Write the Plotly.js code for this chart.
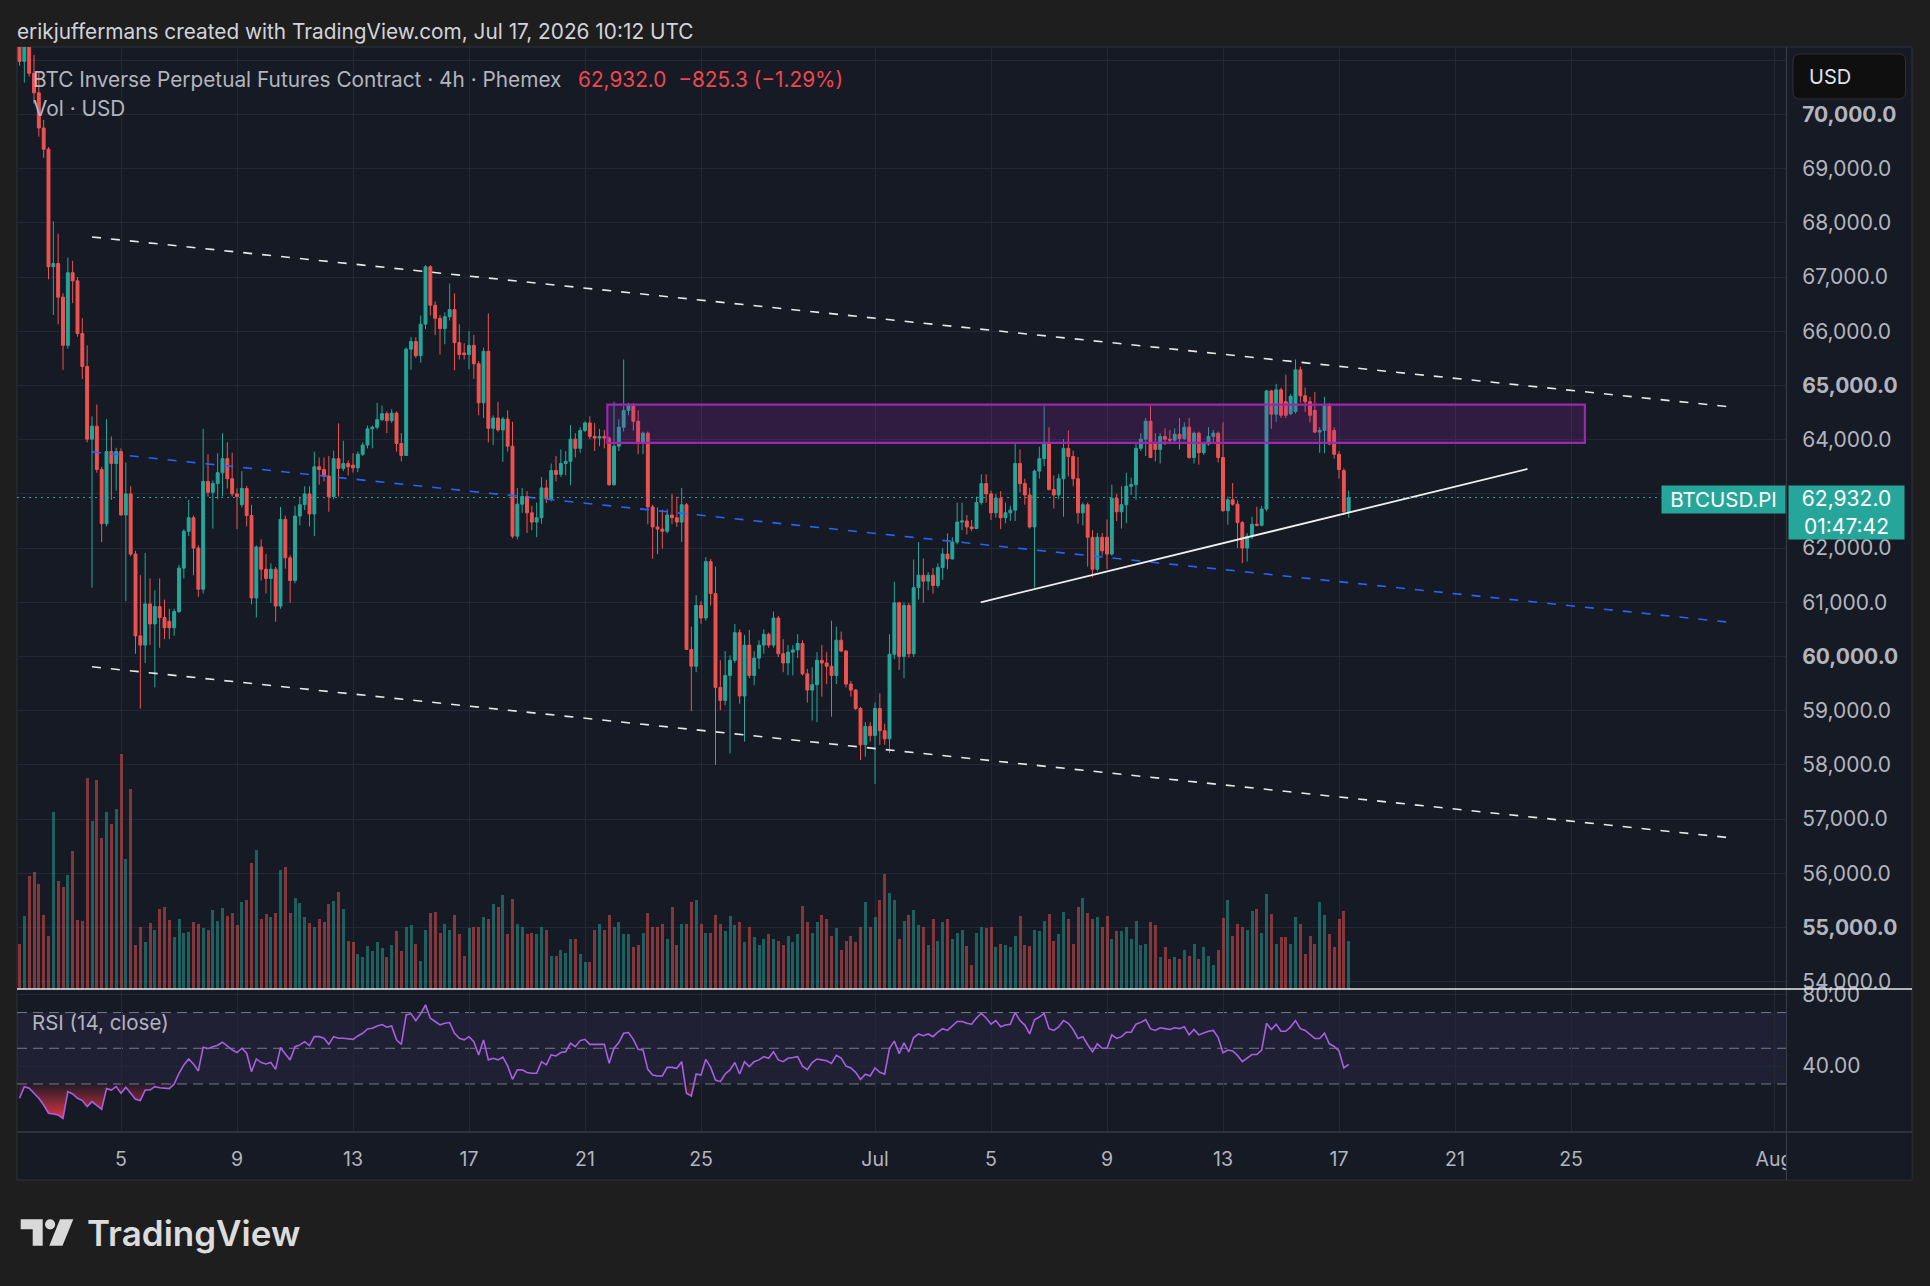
<!DOCTYPE html>
<html>
<head>
<meta charset="utf-8">
<script src="https://cdn.plot.ly/plotly-3.0.1.min.js"></script>
<style>
  html, body { margin: 0; padding: 0; background: #1e1e1e; }
  #chart { width: 1930px; height: 1286px; }
</style>
</head>
<body>
<div id="chart"></div>
<script>
// ---------------------------------------------------------------
// BTCUSD.PI (Phemex inverse perpetual), 4h bars, Jun 1 – Jul 17 2026
// ---------------------------------------------------------------
const firstBarUTC = Date.UTC(2026, 5, 1, 12, 0);   // open time of the first 4h bar
const barHours = 4;

const open = [
  71300, 70980, 71260, 70760, 70400, 69750, 69360, 67190, 67250, 66630,
  65740, 67080, 66930, 65960, 65350, 64010, 64250, 63450, 62450, 63780,
  63560, 63780, 62610, 63000, 61890, 60380, 60210, 60970, 60600, 60920,
  60720, 60650, 60530, 60830, 61630, 62310, 62560, 62000, 61240, 63230,
  63030, 63190, 63390, 63650, 63280, 63000, 62800, 63100, 62600, 61080,
  62020, 61610, 61440, 61610, 60930, 62530, 61820, 61400, 62590, 62800,
  63000, 62630, 63500, 63450, 63330, 62950, 63650, 63470, 63560, 63530,
  63480, 63730, 63900, 64200, 64230, 64370, 64480, 64350, 64490, 63930,
  63710, 65670, 65810, 65550, 66130, 67190, 66480, 66240, 66050, 66270,
  66400, 65790, 65600, 65570, 65740, 65400, 64680, 65630, 64210, 64400,
  64180, 64380, 63880, 62220, 62810, 62950, 62650, 62480, 62560, 63110,
  62910, 63430, 63360, 63560, 63600, 64010, 63840, 64170, 64310, 64060,
  64030, 64060, 64030, 63170, 63880, 64230, 64540, 64620, 64340, 63950,
  64120, 62760, 62390, 62350, 62310, 62610, 62560, 62480, 62800, 60130,
  59820, 60940, 60710, 61750, 61160, 59430, 59190, 59650, 59930, 60440,
  59270, 60210, 59650, 59970, 60210, 60410, 60210, 60710, 60050, 59880,
  60080, 60120, 60240, 59680, 59380, 59480, 59930, 59880, 59820, 59650,
  60300, 60100, 59490, 59380, 59040, 58370, 58710, 58540, 59040, 58630,
  58480, 60040, 60990, 60000, 60940, 60050, 61270, 61500, 61390, 61500,
  61310, 61640, 61890, 61800, 62110, 62480, 62500, 62390, 62360, 62840,
  63190, 63000, 62650, 62920, 62560, 62650, 62700, 63560, 63190, 62980,
  62390, 63420, 63650, 63950, 63080, 62980, 63280, 63840, 63690, 63280,
  62650, 62800, 62200, 61610, 62200, 62200, 61890, 62920, 62670, 62800,
  63140, 63170, 63840, 64010, 64340, 63950, 63820, 64060, 64010, 63990,
  64100, 64020, 64230, 63670, 64120, 63760, 63920, 64060, 64120, 63670,
  62690, 62890, 62810, 62470, 62000, 62220, 62440, 62420, 62720, 64900,
  64470, 64920, 64700, 64480, 64520, 65290, 64810, 64700, 64540, 64140,
  64170, 64620, 64170, 63730, 63430, 62670
];

const high = [
  71500, 71400, 71350, 71100, 70800, 69900, 69400, 68030, 67800, 66700,
  67360, 67300, 67000, 66240, 65740, 64430, 64650, 63500, 64380, 64060,
  63850, 63840, 63580, 63140, 61950, 61500, 61910, 61440, 61220, 61440,
  61050, 60880, 60880, 61690, 62350, 62890, 62600, 62050, 64200, 63730,
  63250, 63750, 64120, 63950, 63760, 63100, 63420, 63150, 62800, 62050,
  62160, 61890, 61720, 61650, 62760, 62600, 61870, 62780, 62950, 63140,
  63140, 63780, 63670, 63670, 63700, 63800, 64300, 63980, 63620, 63750,
  63780, 63950, 64260, 64260, 64680, 64630, 64520, 64560, 64520, 64120,
  65700, 65890, 65890, 66290, 67220, 67220, 66550, 66300, 66350, 66880,
  66700, 66130, 65780, 66000, 65930, 65450, 65700, 66330, 64450, 64700,
  64420, 64540, 64330, 63110, 63110, 63050, 62780, 62840, 63310, 63260,
  63560, 63700, 63820, 63790, 64270, 64120, 64230, 64340, 64430, 64310,
  64200, 64180, 64060, 64700, 64380, 65480, 64680, 64680, 64540, 64150,
  64150, 62800, 62750, 62710, 62720, 63000, 62950, 63110, 62830, 60550,
  61130, 61020, 61830, 61800, 61660, 59930, 60100, 60020, 60600, 60500,
  60400, 60490, 60100, 60300, 60500, 60440, 60830, 60750, 60320, 60210,
  60210, 60410, 60300, 59770, 59800, 60080, 60210, 60080, 60660, 60550,
  60460, 60120, 59550, 59400, 59070, 58790, 58790, 59150, 59320, 58760,
  60410, 61380, 61010, 61000, 60990, 61790, 62110, 61810, 61560, 61630,
  61720, 62000, 62270, 62200, 62840, 62840, 62610, 62520, 62950, 63360,
  63360, 63060, 63000, 63050, 62840, 62780, 63920, 63820, 63280, 63110,
  63450, 63870, 64620, 64230, 63340, 63370, 64010, 64170, 63800, 63680,
  62840, 62840, 62330, 62280, 62280, 62530, 63170, 63000, 63140, 63390,
  63300, 63920, 64120, 64400, 64620, 64120, 64120, 64210, 64180, 64210,
  64400, 64320, 64400, 64150, 64150, 63950, 64230, 64180, 64150, 64320,
  62950, 63200, 62880, 62500, 62280, 62580, 62760, 62780, 64920, 64920,
  65030, 64960, 65200, 64840, 65480, 65350, 64960, 64790, 64880, 64230,
  64790, 64680, 64230, 63790, 63470, 63060
];

const low = [
  70900, 70590, 70700, 70200, 69590, 69200, 66960, 66300, 66130, 65290,
  65680, 66520, 65900, 65120, 63950, 61270, 63390, 62110, 62400, 62890,
  63060, 62600, 61020, 61850, 60050, 59040, 59880, 60210, 59430, 60160,
  60320, 60320, 60380, 60800, 61440, 62220, 61500, 61100, 61160, 62950,
  62360, 62900, 62950, 63100, 62950, 62350, 62750, 62400, 60960, 60720,
  61400, 61160, 60990, 60640, 60880, 61620, 60990, 61350, 62420, 62700,
  62400, 62220, 63170, 63230, 62670, 62900, 62950, 63420, 63340, 63390,
  63400, 63700, 63840, 63840, 64190, 64340, 64120, 64310, 63780, 63600,
  63700, 65290, 65510, 65420, 66040, 66290, 65930, 65570, 65760, 66200,
  65280, 65480, 65480, 65300, 65120, 64450, 64400, 63950, 63900, 64150,
  63590, 63780, 62180, 62160, 62650, 62280, 62330, 62200, 62450, 62830,
  62860, 63230, 63310, 63340, 63160, 63670, 63760, 64140, 64010, 63790,
  63880, 63840, 63150, 63150, 63790, 64150, 64450, 64170, 63730, 63730,
  62440, 61800, 61890, 61990, 62270, 62440, 62390, 62110, 60130, 58990,
  59710, 60600, 60660, 60940, 58000, 59010, 59100, 58210, 59880, 59130,
  58430, 59600, 59470, 59770, 60050, 60160, 60160, 59990, 59710, 59650,
  59650, 59970, 59650, 59150, 58820, 58790, 59260, 59490, 58890, 59490,
  60080, 59430, 59260, 59010, 58090, 58150, 58430, 57650, 58370, 58370,
  58220, 59950, 59750, 59600, 59980, 59990, 61050, 60990, 61220, 61160,
  61270, 61410, 61610, 61790, 62070, 62330, 62250, 62310, 62350, 62800,
  62840, 62520, 62560, 62350, 62460, 62500, 62500, 63030, 62800, 62360,
  61270, 63280, 63510, 63060, 62730, 62900, 62580, 63320, 63140, 62450,
  62420, 61660, 61460, 61570, 61860, 61610, 61860, 62500, 62360, 62460,
  62980, 62890, 63790, 63700, 63670, 63600, 63560, 63900, 63940, 63960,
  63820, 63990, 63650, 63560, 63540, 63720, 63890, 63950, 63580, 62670,
  62430, 62780, 62000, 61720, 61750, 62160, 62400, 62400, 62680, 64200,
  64330, 64400, 64400, 64450, 64480, 64680, 64510, 64320, 64120, 63760,
  63750, 63900, 63650, 63280, 62610, 62560
];

const close = [
  70980, 71260, 70760, 70400, 69750, 69360, 67190, 67250, 66630, 65740,
  67080, 66930, 65960, 65350, 64010, 64250, 63450, 62450, 63780, 63560,
  63780, 62610, 63000, 61890, 60380, 60210, 60970, 60600, 60920, 60720,
  60530, 60530, 60830, 61630, 62310, 62560, 62000, 61240, 63230, 63030,
  63190, 63390, 63650, 63280, 63000, 62950, 63100, 62600, 61080, 62020,
  61610, 61440, 61610, 60930, 62530, 61820, 61400, 62590, 62800, 63000,
  62630, 63500, 63450, 63330, 62950, 63650, 63470, 63560, 63500, 63480,
  63730, 63900, 64200, 64230, 64370, 64480, 64350, 64490, 63930, 63710,
  65670, 65810, 65550, 66130, 67190, 66480, 66240, 66050, 66270, 66400,
  65790, 65570, 65570, 65740, 65400, 64680, 65630, 64210, 64400, 64180,
  64380, 63880, 62220, 62810, 62950, 62650, 62480, 62560, 63110, 62910,
  63430, 63360, 63560, 63600, 64010, 63840, 64170, 64310, 64060, 64030,
  64060, 64030, 63170, 63880, 64230, 64540, 64620, 64340, 63950, 64120,
  62760, 62390, 62350, 62310, 62610, 62560, 62480, 62800, 60130, 59820,
  60940, 60710, 61750, 61160, 59430, 59190, 59650, 59930, 60440, 59270,
  60210, 59650, 59970, 60210, 60410, 60210, 60710, 60050, 59880, 60080,
  60120, 60240, 59680, 59380, 59480, 59930, 59880, 59820, 59650, 60300,
  60100, 59490, 59380, 59040, 58370, 58710, 58540, 59040, 58630, 58480,
  60040, 60990, 60000, 60940, 60050, 61270, 61500, 61390, 61500, 61310,
  61640, 61890, 61800, 62110, 62480, 62500, 62390, 62360, 62840, 63190,
  63000, 62650, 62920, 62560, 62650, 62700, 63560, 63190, 62980, 62390,
  63420, 63650, 63950, 63080, 62980, 63280, 63840, 63690, 63280, 62650,
  62800, 62200, 61610, 62200, 61950, 61890, 62920, 62670, 62800, 63140,
  63170, 63840, 64010, 64340, 63670, 63820, 64060, 64010, 63990, 64100,
  64020, 64230, 63670, 64120, 63760, 63920, 64060, 64120, 63670, 62690,
  62890, 62810, 62470, 62000, 62220, 62440, 62420, 62720, 64900, 64470,
  64920, 64450, 64450, 64800, 65290, 64810, 64700, 64450, 64140, 64170,
  64620, 63920, 63730, 63450, 62670, 62932
];

// bar volume, millions of USD
const volume = [
  4.5, 7.3, 11.3, 11.7, 10.5, 7.4, 5.3, 17.7, 10.8, 10.2,
  11.4, 13.8, 6.9, 6.8, 21.1, 16.8, 20.9, 15.1, 17.7, 16.5,
  18.0, 23.5, 13.0, 20.0, 4.4, 6.2, 4.7, 6.6, 5.9, 8.0,
  8.2, 6.9, 5.2, 7.0, 5.6, 5.7, 6.7, 6.5, 6.1, 5.9,
  7.9, 6.8, 8.1, 7.3, 7.6, 6.4, 8.7, 8.9, 12.6, 13.9,
  7.0, 7.5, 7.2, 7.6, 11.9, 12.2, 7.6, 9.1, 8.6, 7.2,
  6.6, 6.2, 7.0, 6.7, 8.5, 8.8, 9.7, 8.0, 4.8, 4.7,
  3.5, 3.2, 4.3, 3.8, 4.7, 4.1, 3.2, 4.4, 5.8, 3.8,
  6.2, 6.4, 4.5, 2.8, 5.9, 7.6, 7.7, 5.6, 6.5, 5.9,
  7.4, 5.5, 3.3, 6.1, 6.2, 6.2, 7.2, 7.0, 8.5, 8.2,
  9.4, 5.5, 9.0, 6.5, 6.2, 5.5, 5.6, 5.5, 6.2, 5.9,
  3.3, 3.3, 3.9, 3.6, 5.0, 5.0, 3.5, 2.7, 2.7, 5.9,
  6.5, 5.9, 7.4, 6.2, 6.7, 5.5, 5.5, 4.2, 4.4, 5.6,
  7.6, 6.2, 6.2, 6.5, 5.0, 8.2, 4.4, 6.5, 6.5, 8.7,
  8.9, 6.5, 5.6, 5.6, 7.4, 6.5, 5.8, 7.3, 6.4, 6.7,
  4.7, 6.2, 5.2, 4.4, 5.0, 5.5, 5.0, 4.8, 4.4, 5.3,
  4.7, 5.5, 8.3, 6.7, 5.6, 6.7, 7.4, 7.0, 5.3, 6.1,
  3.9, 4.8, 5.3, 4.7, 6.2, 8.7, 6.2, 7.2, 8.9, 11.5,
  9.6, 8.9, 5.0, 6.8, 7.4, 7.9, 6.4, 6.2, 4.4, 7.0,
  4.8, 6.7, 7.0, 5.0, 5.6, 5.9, 4.3, 2.4, 5.6, 6.2,
  6.1, 6.2, 4.2, 4.5, 4.4, 4.2, 5.3, 7.3, 4.4, 4.3,
  5.9, 5.8, 6.8, 7.5, 4.8, 5.5, 7.7, 7.0, 4.5, 8.2,
  9.1, 7.6, 7.0, 7.2, 6.2, 7.3, 5.0, 5.8, 5.8, 6.2,
  5.0, 6.8, 4.4, 4.5, 6.7, 6.4, 3.2, 4.2, 3.0, 3.2,
  3.0, 3.9, 3.3, 4.5, 3.0, 4.2, 3.3, 2.4, 3.9, 7.1,
  8.9, 5.3, 6.5, 6.2, 5.9, 7.8, 8.0, 5.6, 9.5, 7.5,
  4.5, 5.2, 5.2, 4.5, 7.2, 6.5, 3.5, 5.3, 4.5, 8.7,
  7.4, 5.5, 4.2, 7.0, 7.8, 4.8
];

// RSI(14) of close, one value per bar
const rsi = [
  22, 28.5, 27.6, 24.8, 22, 18.2, 13.6, 13.2, 12.6, 10.7,
  25.7, 24.4, 22, 20.7, 17.3, 20.1, 18.2, 15.8, 27.4, 26.6,
  28.5, 24.8, 28.1, 24.4, 21.4, 20.7, 26.6, 26.6, 28.5, 27.9,
  27.6, 27.4, 30, 36, 40.7, 44, 41.2, 37.3, 50.6, 49.8,
  50.9, 51.7, 53.4, 51.3, 49.1, 47.6, 50, 47.2, 36.9, 44,
  42, 41.2, 42, 38.2, 50.4, 46.8, 43.5, 50.9, 51.9, 53.7,
  51.5, 56.5, 56.5, 55.6, 52.2, 56.5, 55.6, 55.6, 55.2, 55,
  56.9, 58.4, 60.8, 61.2, 62.5, 63.3, 61.8, 62.5, 54.7, 52.2,
  68.7, 69.3, 65.5, 69.3, 74.3, 66.8, 65, 63.1, 64, 64.4,
  58.4, 55.6, 54.7, 56.5, 53.7, 46.3, 54.7, 43.5, 44.4, 43.5,
  45, 40.1, 32.6, 37.9, 37.9, 36.4, 36, 36, 42.5, 40.7,
  46.3, 45.7, 47.6, 48.1, 52.8, 50.9, 54.3, 55, 52.2, 52.2,
  52.4, 52.2, 41.6, 50, 53.2, 58.4, 58.8, 55, 49.4, 49.1,
  38.2, 35, 34.5, 34.5, 39.3, 39.3, 38.8, 42.5, 24.8, 23.3,
  35.6, 35, 43.8, 39.3, 32.2, 31.3, 35.6, 37.9, 42, 35.6,
  42.5, 39.7, 42.5, 43.5, 45.3, 44.4, 48.1, 43.5, 42.5, 44.4,
  44.8, 45.3, 40, 38, 42, 44, 43.5, 43, 41.5, 46,
  44.5, 40, 39, 36.5, 32.5, 35.5, 34.5, 39, 36.5, 35.5,
  50, 54, 47, 53, 48, 56, 58, 57, 58, 56.5,
  59, 61, 60, 62.5, 65, 65, 64, 63.5, 67, 69.5,
  67, 63.5, 65.5, 62, 63, 63.5, 70, 65.5, 63, 58,
  66, 67.5, 69.5, 61, 60, 62, 65.5, 64, 60.5, 55.5,
  56.5, 52, 48, 52.5, 50, 50, 57.5, 55.5, 56.5, 59,
  59, 63.5, 64.5, 66, 61, 60, 61.5, 61, 60.5, 61.5,
  61, 62, 57.5, 60.5, 57.5, 58.5, 59.5, 60, 56, 47.5,
  49, 48.5, 46, 42.5, 44.5, 46.5, 46.5, 49, 64, 60.5,
  63.5, 59.5, 59.5, 62, 65.5, 61, 60, 58, 55.5, 55.5,
  58.5, 52.5, 51, 48.5, 39, 41
];

// time axis labels
const dayTicks = ['2026-06-05', '2026-06-09', '2026-06-13', '2026-06-17', '2026-06-21', '2026-06-25',
                  '2026-07-01', '2026-07-05', '2026-07-09', '2026-07-13', '2026-07-17', '2026-07-21',
                  '2026-07-25', '2026-08-01'];
const dayTickText = ['5', '9', '13', '17', '21', '25', 'Jul', '5', '9', '13', '17', '21', '25', 'Aug'];
const priceTicks = [54000, 55000, 56000, 57000, 58000, 59000, 60000, 61000, 62000,
                    63000, 64000, 65000, 66000, 67000, 68000, 69000, 70000, 71000];
const rsiTicks = [40, 80];
const rsiBands = [30, 50, 70];

// drawings: descending channel, rising support, resistance zone
const channelTimes = ['2026-06-04 00:00', '2026-07-30 14:00'];
const channelUpper = [67740, 64600];
const channelMid = [63775, 60625];
const channelLower = [59810, 56650];
const supportTimes = ['2026-07-04 15:30', '2026-07-23 12:00'];
const supportPrices = [61000, 63460];
const zoneTimes = ['2026-06-21 18:30', '2026-07-25 11:30'];
const zonePrices = [63940, 64645];

// session change shown in the legend
const dayChange = -825.3;
const dayChangePct = -1.29;
const barCountdown = '01:47:42';
const symbolTag = 'BTCUSD.PI';

// ---------------------------------------------------------------
// helpers
// ---------------------------------------------------------------
const W = 1930, H = 1286;
const px = x => x / W;
const py = y => 1 - y / H;
const BG = '#161a25', OUTER = '#1e1e1e', GRID = '#242835', BORDER = '#2c303b';
const UP = '#26a69a', DOWN = '#ef5350';
const TEXT = '#b2b5be';
const FONT = 'Inter, "Noto Sans", Roboto, sans-serif';
const MINUS = '\u2212';

const pad2 = n => String(n).padStart(2, '0');
const stamp = ms => {
  const d = new Date(ms);
  return d.getUTCFullYear() + '-' + pad2(d.getUTCMonth() + 1) + '-' + pad2(d.getUTCDate()) +
         ' ' + pad2(d.getUTCHours()) + ':' + pad2(d.getUTCMinutes());
};
const fmt1 = v => v.toLocaleString('en-US', { minimumFractionDigits: 1, maximumFractionDigits: 1 });
const fmt2 = v => v.toFixed(2);

const times = close.map((_, i) => stamp(firstBarUTC + i * barHours * 3600e3));
const lastPrice = close[close.length - 1];

// ---------------------------------------------------------------
// traces
// ---------------------------------------------------------------
const volColors = close.map((c, i) => c >= open[i] ? 'rgba(38,166,154,0.5)' : 'rgba(239,83,80,0.5)');

const traces = [
  {
    type: 'bar', x: times, y: volume, xaxis: 'x', yaxis: 'y3',
    marker: { color: volColors, line: { width: 0 } },
    width: barHours * 3600e3 * 0.62, hoverinfo: 'skip'
  },
  {
    type: 'candlestick', x: times, open: open, high: high, low: low, close: close,
    xaxis: 'x', yaxis: 'y', whiskerwidth: 0, hoverinfo: 'skip',
    increasing: { line: { color: UP, width: 1 }, fillcolor: UP },
    decreasing: { line: { color: DOWN, width: 1 }, fillcolor: DOWN }
  },
  // oversold shading below 30
  {
    type: 'scatter', mode: 'lines', x: times, y: times.map(() => rsiBands[0]),
    xaxis: 'x', yaxis: 'y2', line: { width: 0 }, hoverinfo: 'skip'
  },
  {
    type: 'scatter', mode: 'lines', x: times, y: rsi.map(v => Math.min(v, rsiBands[0])),
    xaxis: 'x', yaxis: 'y2', line: { width: 0 }, hoverinfo: 'skip', fill: 'tonexty',
    fillgradient: { type: 'vertical', start: 10, stop: 30,
      colorscale: [[0, 'rgba(242,54,69,0.95)'], [1, 'rgba(242,54,69,0.05)']] }
  },
  // overbought shading above 70
  {
    type: 'scatter', mode: 'lines', x: times, y: times.map(() => rsiBands[2]),
    xaxis: 'x', yaxis: 'y2', line: { width: 0 }, hoverinfo: 'skip'
  },
  {
    type: 'scatter', mode: 'lines', x: times, y: rsi.map(v => Math.max(v, rsiBands[2])),
    xaxis: 'x', yaxis: 'y2', line: { width: 0 }, hoverinfo: 'skip', fill: 'tonexty',
    fillgradient: { type: 'vertical', start: 70, stop: 78,
      colorscale: [[0, 'rgba(8,153,129,0.05)'], [1, 'rgba(8,153,129,0.9)']] }
  },
  {
    type: 'scatter', mode: 'lines', x: times, y: rsi, xaxis: 'x', yaxis: 'y2',
    line: { color: '#a75fe0', width: 1.6 }, hoverinfo: 'skip'
  }
];

// ---------------------------------------------------------------
// shapes
// ---------------------------------------------------------------
const L = 17, R = 1786, TOP = 47, SEP = 989, RSI_BOTTOM = 1132, FRAME_BOTTOM = 1180, FRAME_RIGHT = 1912;

const paperLine = (x0, y0, x1, y1, color, width) => ({
  type: 'line', xref: 'paper', yref: 'paper', x0: px(x0), y0: py(y0), x1: px(x1), y1: py(y1),
  line: { color: color, width: width }, layer: 'above'
});
const pathFrom = pts => 'M ' + pts.map(p => px(p[0]) + ' ' + py(p[1])).join(' L ') + ' Z';
const roundRect = (x0, y0, x1, y1, r) =>
  'M ' + px(x0 + r) + ' ' + py(y0) +
  ' L ' + px(x1 - r) + ' ' + py(y0) + ' Q ' + px(x1) + ' ' + py(y0) + ' ' + px(x1) + ' ' + py(y0 + r) +
  ' L ' + px(x1) + ' ' + py(y1 - r) + ' Q ' + px(x1) + ' ' + py(y1) + ' ' + px(x1 - r) + ' ' + py(y1) +
  ' L ' + px(x0 + r) + ' ' + py(y1) + ' Q ' + px(x0) + ' ' + py(y1) + ' ' + px(x0) + ' ' + py(y1 - r) +
  ' L ' + px(x0) + ' ' + py(y0 + r) + ' Q ' + px(x0) + ' ' + py(y0) + ' ' + px(x0 + r) + ' ' + py(y0) + ' Z';

const dashed = '9px,10px';
const shapes = [
  // chart panel background
  { type: 'rect', xref: 'paper', yref: 'paper', x0: px(L), x1: px(FRAME_RIGHT), y0: py(FRAME_BOTTOM), y1: py(TOP),
    fillcolor: BG, line: { color: BORDER, width: 1 }, layer: 'below' },
  // RSI 30-70 band and guide lines
  { type: 'rect', xref: 'paper', yref: 'y2', x0: px(L), x1: px(R), y0: rsiBands[0], y1: rsiBands[2],
    fillcolor: 'rgba(126,87,194,0.1)', line: { width: 0 }, layer: 'below' },
  ...rsiBands.map(v => ({
    type: 'line', xref: 'paper', yref: 'y2', x0: px(L), x1: px(R), y0: v, y1: v,
    line: { color: 'rgba(150,153,163,0.75)', width: 1, dash: '10px,6px' }, layer: 'below'
  })),
  // resistance zone
  { type: 'rect', xref: 'x', yref: 'y', x0: zoneTimes[0], x1: zoneTimes[1], y0: zonePrices[0], y1: zonePrices[1],
    fillcolor: 'rgba(156,39,176,0.2)', line: { color: '#9c27b0', width: 2.2 }, layer: 'above' },
  // descending channel
  { type: 'line', xref: 'x', yref: 'y', x0: channelTimes[0], x1: channelTimes[1], y0: channelUpper[0], y1: channelUpper[1],
    line: { color: '#e8e8e8', width: 1.6, dash: dashed }, layer: 'above' },
  { type: 'line', xref: 'x', yref: 'y', x0: channelTimes[0], x1: channelTimes[1], y0: channelMid[0], y1: channelMid[1],
    line: { color: '#2962ff', width: 1.6, dash: dashed }, layer: 'above' },
  { type: 'line', xref: 'x', yref: 'y', x0: channelTimes[0], x1: channelTimes[1], y0: channelLower[0], y1: channelLower[1],
    line: { color: '#e8e8e8', width: 1.6, dash: dashed }, layer: 'above' },
  // rising support
  { type: 'line', xref: 'x', yref: 'y', x0: supportTimes[0], x1: supportTimes[1], y0: supportPrices[0], y1: supportPrices[1],
    line: { color: '#f0f0f0', width: 1.8 }, layer: 'above' },
  // last price line
  { type: 'line', xref: 'paper', yref: 'y', x0: px(L), x1: px(R), y0: lastPrice, y1: lastPrice,
    line: { color: UP, width: 1, dash: '2px,4px' }, layer: 'above' },
  // price scale area under the time axis
  { type: 'rect', xref: 'paper', yref: 'paper', x0: px(R + 1), x1: px(FRAME_RIGHT - 0.5), y0: py(FRAME_BOTTOM - 0.5), y1: py(RSI_BOTTOM + 1),
    fillcolor: BG, line: { width: 0 }, layer: 'above' },
  // pane separators
  paperLine(R + 0.5, TOP, R + 0.5, FRAME_BOTTOM, '#363a45', 1.2),
  paperLine(L, RSI_BOTTOM, FRAME_RIGHT, RSI_BOTTOM, '#363a45', 1.5),
  paperLine(L, SEP, FRAME_RIGHT, SEP, '#e6e8ee', 1.6),
  // currency button
  { type: 'path', xref: 'paper', yref: 'paper', path: roundRect(1793, 54, 1905.5, 99, 7),
    fillcolor: '#0f0f10', line: { color: '#2e2f33', width: 1 }, layer: 'above' },
  // TradingView mark
  { type: 'path', xref: 'paper', yref: 'paper',
    path: pathFrom([[20.7, 1219.3], [42.7, 1219.3], [42.7, 1245.7], [32.7, 1245.7], [32.7, 1229.3], [20.7, 1229.3]]),
    fillcolor: '#d9d9d9', line: { width: 0 }, layer: 'above' },
  { type: 'circle', xref: 'paper', yref: 'paper', x0: px(45), x1: px(55.2), y0: py(1229.4), y1: py(1219.2),
    fillcolor: '#d9d9d9', line: { width: 0 }, layer: 'above' },
  { type: 'path', xref: 'paper', yref: 'paper',
    path: pathFrom([[60, 1219.3], [73.3, 1219.3], [62.5, 1245.7], [49.3, 1245.7]]),
    fillcolor: '#d9d9d9', line: { width: 0 }, layer: 'above' }
];

// ---------------------------------------------------------------
// annotations
// ---------------------------------------------------------------
const note = (text, x, y, size, color, extra) => Object.assign({
  text: text, xref: 'paper', yref: 'paper', x: px(x), y: py(y), xanchor: 'left', yanchor: 'middle',
  showarrow: false, font: { family: FONT, size: size, color: color }
}, extra || {});

const changeText = fmt1(lastPrice) + '\u00a0\u00a0' + MINUS + fmt1(Math.abs(dayChange)) +
                   ' (' + MINUS + fmt2(Math.abs(dayChangePct)) + '%)';

const annotations = [
  note('erikjuffermans created with TradingView.com, Jul 17, 2026 10:12 UTC', 15, 31, 20.8, '#d1d4dc'),
  note('BTC Inverse Perpetual Futures Contract · 4h · Phemex', 31, 79, 20.8, TEXT),
  note(changeText, 576, 79, 20.8, '#f0474f'),
  note('Vol · USD', 31, 108, 20.8, TEXT),
  note('RSI (14, close)', 30, 1023, 20.5, TEXT),
  note('USD', 1807, 77, 20, '#e0e3eb'),
  { text: symbolTag, xref: 'paper', yref: 'y', x: px(R), y: lastPrice, xanchor: 'right', yanchor: 'middle',
    yshift: -2, showarrow: false, bgcolor: UP, borderpad: 3, width: 117, height: 21, align: 'center',
    font: { family: FONT, size: 20.5, color: '#ffffff' } },
  { text: fmt1(lastPrice) + '<br>' + barCountdown, xref: 'paper', yref: 'y', x: px(R + 1.5), y: lastPrice,
    xanchor: 'left', yanchor: 'top', yshift: 12.5, showarrow: false, bgcolor: UP, borderpad: 2,
    width: 111, height: 49, align: 'center', valign: 'middle',
    font: { family: FONT, size: 21, color: '#ffffff' } },
  note('TradingView', 85, 1233, 35, '#dcdcdc', { font: { family: FONT, size: 35, color: '#dcdcdc', weight: 600 } })
];

// ---------------------------------------------------------------
// layout
// ---------------------------------------------------------------
// the 63,000 level sits under the live price tag; 71,000 under the currency button
const hiddenLevels = [63000, 71000];
const priceTickText = priceTicks.map(v =>
  hiddenLevels.includes(v) ? '' : (v % 5000 === 0 ? '<b>' + fmt1(v) + '</b>' : fmt1(v)));

const layout = {
  width: W, height: H,
  margin: { l: 0, r: 0, t: 0, b: 0 },
  paper_bgcolor: OUTER, plot_bgcolor: 'rgba(0,0,0,0)',
  showlegend: false, hovermode: false, dragmode: false,
  boxgap: 0.4, boxgroupgap: 0, bargap: 0,
  font: { family: FONT, color: TEXT },
  xaxis: {
    type: 'date', domain: [px(L), px(R)], range: ['2026-06-01 09:56', '2026-08-01 09:56'],
    anchor: 'y2', tickmode: 'array', tickvals: dayTicks, ticktext: dayTickText,
    ticks: 'outside', ticklen: 10, tickcolor: 'rgba(0,0,0,0)',
    tickfont: { family: FONT, size: 19.5, color: TEXT },
    showgrid: true, gridcolor: GRID, gridwidth: 1, zeroline: false, showline: false,
    rangeslider: { visible: false }, fixedrange: true
  },
  yaxis: {
    domain: [py(SEP), py(TOP)], range: [53865, 71245], side: 'right', anchor: 'x',
    tickmode: 'array', tickvals: priceTicks, ticktext: priceTickText,
    ticks: 'outside', ticklen: 11, tickcolor: 'rgba(0,0,0,0)',
    tickfont: { family: FONT, size: 21, color: TEXT },
    showgrid: true, gridcolor: GRID, gridwidth: 1, zeroline: false, showline: false, fixedrange: true
  },
  yaxis2: {
    domain: [py(RSI_BOTTOM), py(SEP)], range: [3.1, 83.2], side: 'right', anchor: 'x',
    tickmode: 'array', tickvals: rsiTicks, ticktext: rsiTicks.map(fmt2),
    ticks: 'outside', ticklen: 11, tickcolor: 'rgba(0,0,0,0)',
    tickfont: { family: FONT, size: 21, color: TEXT },
    showgrid: true, gridcolor: GRID, gridwidth: 1, zeroline: false, showline: false, fixedrange: true
  },
  yaxis3: {
    overlaying: 'y', range: [0, 94.2], visible: false, showgrid: false, zeroline: false, fixedrange: true
  },
  shapes: shapes,
  annotations: annotations
};

Plotly.newPlot('chart', traces, layout, { displayModeBar: false, staticPlot: true });
</script>
</body>
</html>
